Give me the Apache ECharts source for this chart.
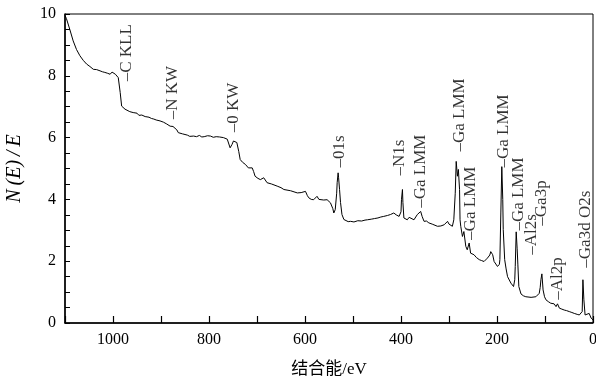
<!DOCTYPE html>
<html>
<head>
<meta charset="utf-8">
<script src="https://cdn.jsdelivr.net/npm/echarts@6/dist/echarts.min.js"></script>
<style>
  html, body { margin: 0; padding: 0; background: #fff; }
  #chart { width: 596px; height: 384px; }
</style>
</head>
<body>
<div id="chart"></div>
<script>
// binding energy (eV) and N(E)/E
const energy = [
  1100, 1097, 1090, 1083, 1076, 1069, 1062, 1055, 1048, 1044, 1041, 1037, 1034, 1030, 1027, 1022,
  1017, 1011, 1006, 1002, 999, 995, 992, 989, 985, 982, 975, 971, 965, 958, 954, 950,
  946, 944, 940, 937, 933, 930, 925, 920, 915, 910, 906, 902, 898, 895, 891, 888,
  884, 881, 878, 875, 871, 867, 864, 860, 855, 850, 845, 840, 836, 832, 826, 820,
  815, 810, 803, 797, 791, 785, 778, 770, 762, 756, 752, 749, 745, 742, 738, 735,
  730, 724, 718, 714, 710, 707, 704, 698, 693, 686, 679, 670, 658, 650, 644, 630,
  616, 608, 599, 595, 592, 587, 582, 575, 571, 568, 561, 554, 550, 547, 542, 540,
  537, 534, 533, 531, 530, 528, 526, 523, 519, 516, 510, 505, 498, 490, 482, 475,
  470, 462, 455, 448, 442, 436, 432, 428, 422, 415, 410, 404, 400, 399, 397, 396,
  394, 387, 383, 380, 373, 366, 363, 359, 356, 352, 347, 342, 335, 324, 317, 310,
  303, 300, 296, 293, 290, 287, 285, 282.5, 280.5, 278, 277, 275.5, 272, 269, 265, 262,
  258, 255, 248, 243, 237, 232, 227, 220, 215, 213, 209, 206, 199, 195, 194, 192,
  190, 188, 187, 184, 181, 178, 171, 165.5, 163, 162, 160, 158, 156.5, 154.5, 150, 145,
  140, 129, 119, 112, 110, 108.5, 106.5, 104, 101, 98, 93, 88, 81, 77, 74, 72,
  70, 65, 60, 55, 49.5, 44, 39, 33, 28.5, 25, 22.5, 21, 19, 16.5, 12.5, 8, 4,
  0
];
const intensity = [
  9.95, 9.85, 9.5, 9.13, 8.85, 8.65, 8.5, 8.38, 8.3, 8.24, 8.21, 8.23, 8.2, 8.14, 8.16, 8.13,
  8.11, 8.08, 8.05, 8.12, 8.16, 8.05, 8.0, 7.94, 7.46, 7.02, 6.92, 6.86, 6.84, 6.81, 6.76, 6.79,
  6.72, 6.74, 6.73, 6.7, 6.68, 6.65, 6.66, 6.62, 6.6, 6.57, 6.58, 6.54, 6.52, 6.5, 6.47, 6.44,
  6.42, 6.37, 6.39, 6.36, 6.32, 6.25, 6.16, 6.15, 6.12, 6.1, 6.08, 6.04, 6.07, 6.05, 6.03, 6.07,
  6.02, 6.03, 6.06, 6.05, 6.01, 6.03, 6.02, 6.0, 5.95, 5.67, 5.78, 5.89, 5.86, 5.84, 5.55, 5.29,
  5.2, 5.13, 5.02, 4.98, 5.02, 4.9, 4.75, 4.68, 4.64, 4.7, 4.54, 4.5, 4.43, 4.38, 4.32, 4.28,
  4.21, 4.22, 4.26, 4.12, 4.05, 4.0, 3.99, 4.1, 4.0, 3.94, 3.98, 3.99, 3.95, 3.89, 3.7, 3.56,
  3.67, 4.2, 4.54, 4.86, 4.7, 4.32, 3.9, 3.51, 3.35, 3.29, 3.28, 3.29, 3.27, 3.31, 3.3, 3.33,
  3.34, 3.36, 3.38, 3.4, 3.43, 3.45, 3.42, 3.48, 3.51, 3.56, 3.5, 3.45, 3.6, 3.99, 4.32, 3.9,
  3.4, 3.34, 3.42, 3.4, 3.34, 3.51, 3.45, 3.61, 3.45, 3.29, 3.3, 3.24, 3.2, 3.13, 3.14, 3.18,
  3.29, 3.2, 3.24, 3.13, 3.34, 4.2, 5.23, 4.75, 4.97, 4.32, 3.34, 3.13, 2.8, 2.96, 2.48, 2.37,
  2.59, 2.26, 2.21, 2.12, 2.05, 2.02, 1.99, 2.1, 2.2, 2.31, 2.21, 1.99, 1.83, 1.9, 2.05, 3.56,
  5.06, 4.0, 3.02, 2.05, 1.75, 1.5, 1.29, 1.18, 1.4, 1.83, 2.95, 2.4, 1.88, 1.18, 0.94, 0.88,
  0.85, 0.83, 0.85, 0.96, 1.15, 1.4, 1.59, 1.07, 0.85, 0.75, 0.69, 0.64, 0.62, 0.53, 0.62, 0.55,
  0.48, 0.45, 0.42, 0.4, 0.37, 0.34, 0.31, 0.28, 0.26, 0.2, 0.37, 1.4, 0.75, 0.26, 0.2, 0.31, 0.16,
  0.1
];

// peak annotations: text, energy of the label, N(E)/E where the label starts
const peakNames = ['C KLL', 'N KW', '0 KW', '01s', 'N1s', 'Ga LMM', 'Ga LMM', 'Ga LMM',
  'Ga LMM', 'Ga LMM', 'Al2s', 'Ga3p', 'Al2p', 'Ga3d O2s'];
const peakEnergy = [971, 875, 749.5, 528, 403, 359, 278, 255, 186, 154.5, 129, 106.5, 73, 14.6];
const peakBase = [7.82, 6.59, 6.17, 5.03, 4.77, 3.73, 5.55, 2.69, 5.03, 2.99, 2.21, 3.15, 0.75, 1.79];

const xTicks = [0, 200, 400, 600, 800, 1000];
const yTicks = [0, 2, 4, 6, 8, 10];

const serif = "'Liberation Serif', 'Times New Roman', 'Noto Sans CJK SC', serif";

const chart = echarts.init(document.getElementById('chart'));

const option = {
  animation: false,
  grid: {
    left: 65,
    right: 3,
    top: 14,
    bottom: 61,
    outerBoundsMode: 'none',
    containLabel: false,
    show: true,
    borderColor: '#000',
    borderWidth: 1
  },
  xAxis: {
    type: 'value',
    inverse: true,
    min: 0,
    max: 1100,
    interval: 100,
    name: '结合能/eV',
    nameLocation: 'middle',
    nameGap: 38,
    nameTextStyle: { color: '#000', fontSize: 17, fontFamily: serif },
    axisLine: { onZero: false, lineStyle: { color: '#000', width: 1.5 } },
    axisTick: { inside: true, length: 7, lineStyle: { color: '#000', width: 1.2 } },
    axisLabel: {
      color: '#000',
      fontSize: 16,
      fontFamily: serif,
      margin: 9,
      formatter: v => (xTicks.indexOf(v) >= 0 ? String(v) : '')
    },
    splitLine: { show: false }
  },
  yAxis: {
    type: 'value',
    position: 'left',
    min: 0,
    max: 10,
    interval: 2,
    name: 'N\u2009(E)\u2009/\u2009E',
    nameLocation: 'middle',
    nameGap: 40,
    nameTextStyle: { color: '#000', fontSize: 20, fontFamily: serif, fontStyle: 'italic' },
    axisLine: { onZero: false, lineStyle: { color: '#000', width: 1.5 } },
    axisTick: { inside: true, length: 5, lineStyle: { color: '#000' } },
    minorTick: { show: true, splitNumber: 4, length: 5, lineStyle: { color: '#000' } },
    axisLabel: {
      color: '#000',
      fontSize: 16,
      fontFamily: serif,
      margin: 9,
      formatter: v => (yTicks.indexOf(v) >= 0 ? String(v) : '')
    },
    splitLine: { show: false }
  },
  series: [
    {
      type: 'line',
      data: energy.map((e, i) => [e, intensity[i]]),
      showSymbol: false,
      lineStyle: { color: '#000', width: 1 },
      z: 2
    },
    {
      type: 'scatter',
      data: peakNames.map((n, i) => ({ name: n, value: [peakEnergy[i], peakBase[i]] })),
      symbolSize: 0,
      itemStyle: { color: 'rgba(0,0,0,0)' },
      silent: true,
      label: {
        show: true,
        position: 'inside',
        rotate: 90,
        align: 'left',
        verticalAlign: 'middle',
        color: '#000',
        fontSize: 17,
        fontFamily: serif,
        formatter: p => '\u2013' + p.name
      },
      z: 3
    }
  ]
};

chart.setOption(option);
</script>
</body>
</html>
